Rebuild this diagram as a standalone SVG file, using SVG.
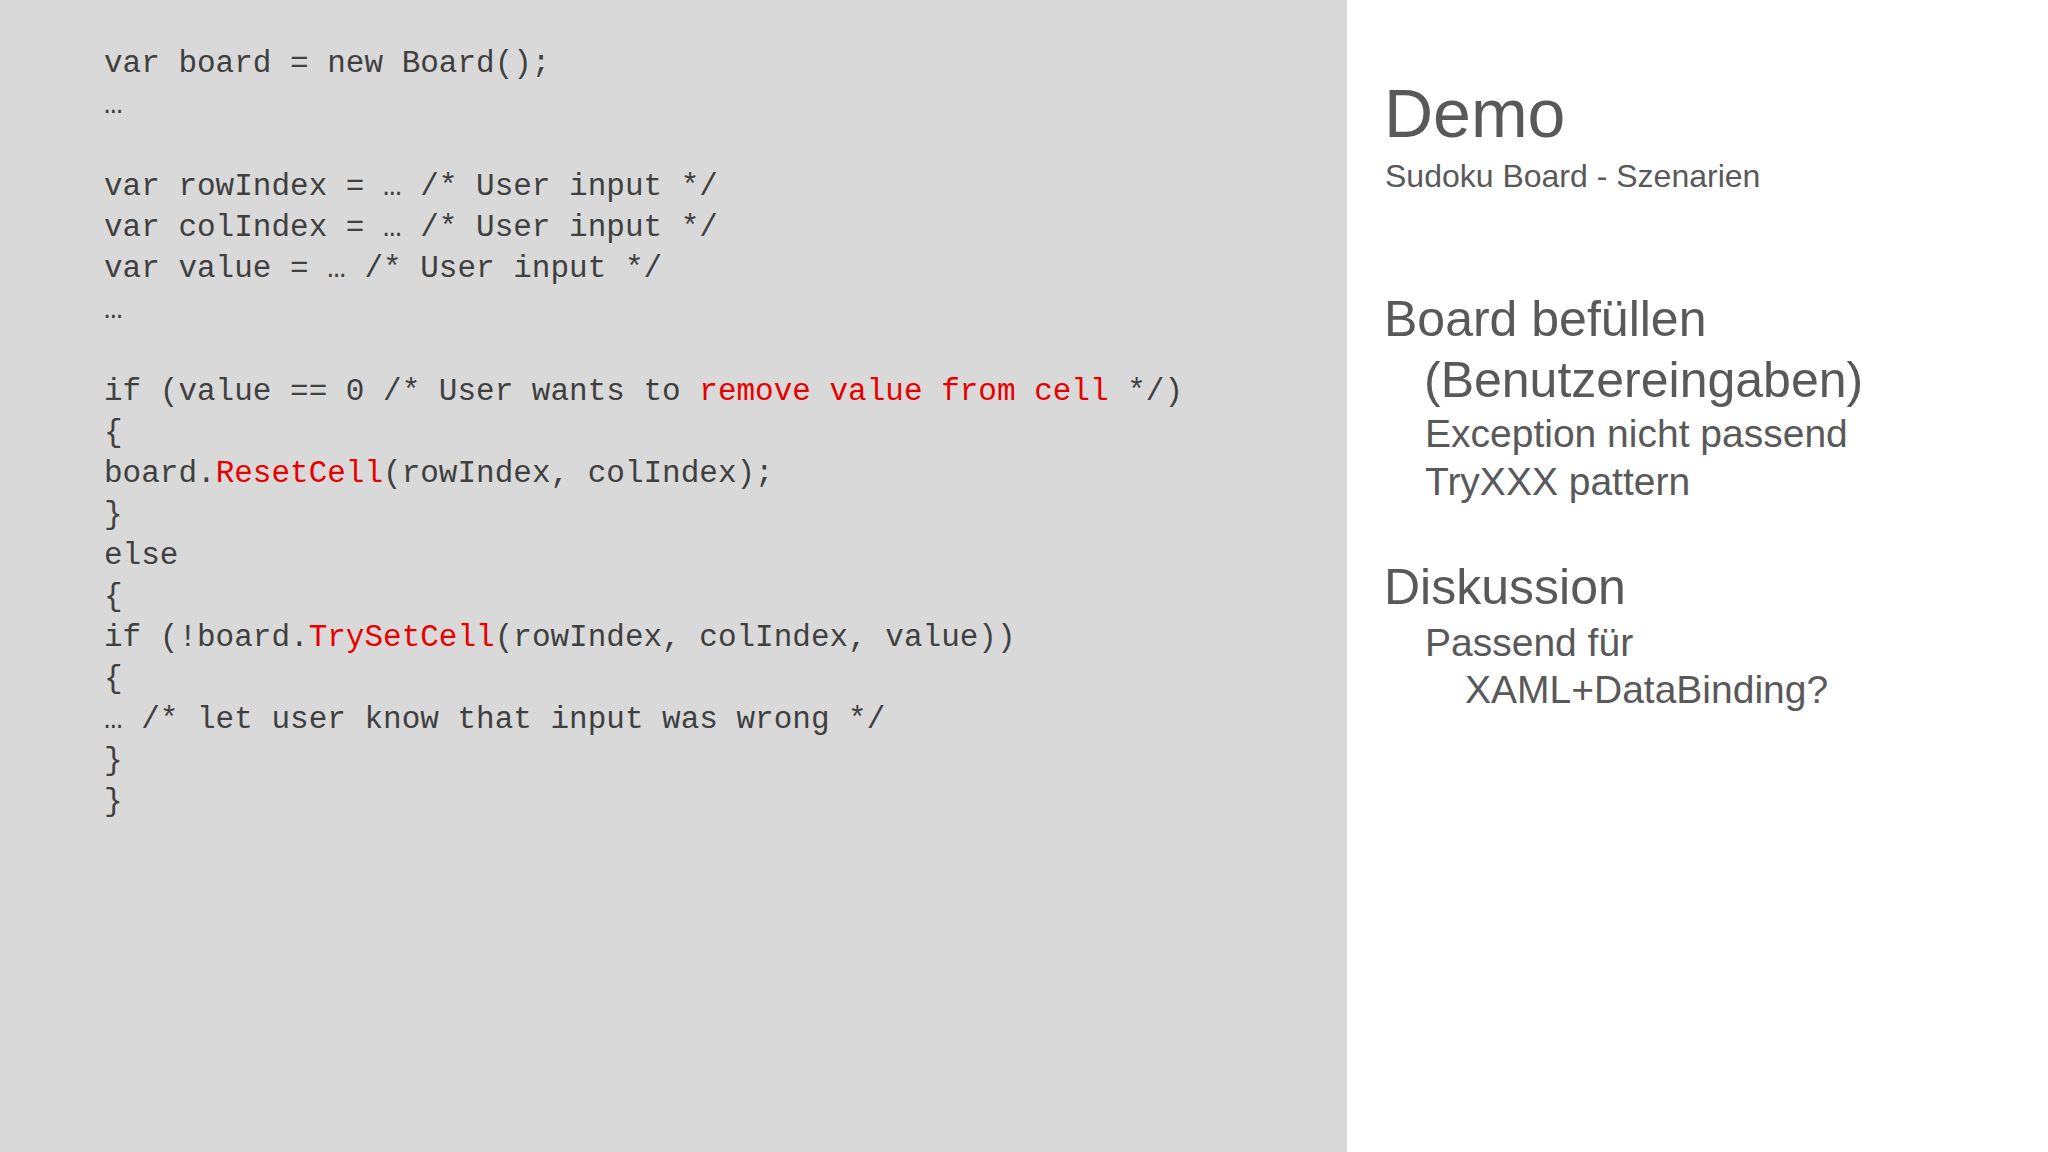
<svg xmlns="http://www.w3.org/2000/svg" width="2048" height="1152" viewBox="0 0 2048 1152">
<style>
.c{font-family:"Liberation Mono","DejaVu Sans Mono",monospace;font-size:31px;fill:#404040;white-space:pre}
.r{fill:#e60000}
.s{font-family:"Liberation Sans",Arial,sans-serif;fill:#595959}
</style>
<rect width="2048" height="1152" fill="#ffffff"/>
<rect width="1347" height="1152" fill="#d9d9d9"/>
<g id="code" class="c" xml:space="preserve">
<text x="104" y="72">var board = new Board();</text>
<text x="104" y="113">…</text>
<text x="104" y="195">var rowIndex = … /* User input */</text>
<text x="104" y="236">var colIndex = … /* User input */</text>
<text x="104" y="277">var value = … /* User input */</text>
<text x="104" y="318">…</text>
<text x="104" y="400">if (value == 0 /* User wants to <tspan class="r">remove value from cell</tspan> */)</text>
<text x="104" y="441">{</text>
<text x="104" y="482">  board.<tspan class="r">ResetCell</tspan>(rowIndex, colIndex);</text>
<text x="104" y="523">}</text>
<text x="104" y="564">else</text>
<text x="104" y="605">{</text>
<text x="104" y="646">  if (!board.<tspan class="r">TrySetCell</tspan>(rowIndex, colIndex, value))</text>
<text x="104" y="687">  {</text>
<text x="104" y="728">    … /* let user know that input was wrong */</text>
<text x="104" y="769">  }</text>
<text x="104" y="810">}</text>
</g>
<g id="title" class="s">
<text x="1384" y="137" font-size="68">Demo</text>
<text x="1385" y="187" font-size="32">Sudoku Board - Szenarien</text>
</g>
<g id="bullets" class="s">
<text x="1384" y="336" font-size="50">Board befüllen</text>
<text x="1424" y="397" font-size="50">(Benutzereingaben)</text>
<text x="1425" y="447" font-size="39">Exception nicht passend</text>
<text x="1425" y="495" font-size="39">TryXXX pattern</text>
<text x="1384" y="604" font-size="50">Diskussion</text>
<text x="1425" y="656" font-size="39">Passend für</text>
<text x="1465" y="703" font-size="39">XAML+DataBinding?</text>
</g>
</svg>
